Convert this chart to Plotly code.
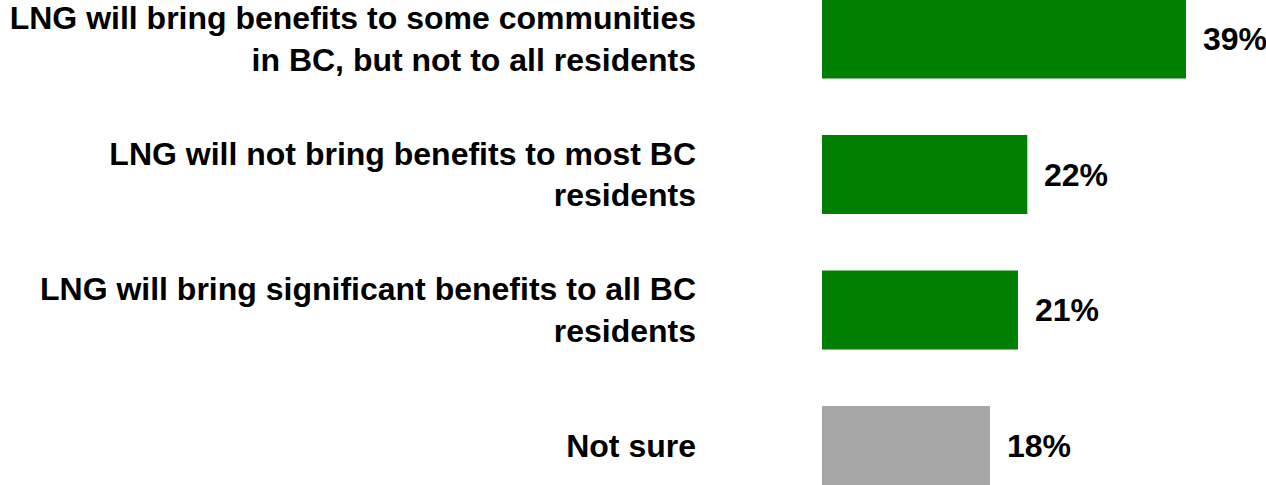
import plotly.graph_objects as go

categories = [
    "LNG will bring benefits to some communities<br>in BC, but not to all residents",
    "LNG will not bring benefits to most BC<br>residents",
    "LNG will bring significant benefits to all BC<br>residents",
    "Not sure",
]
values = [39, 22, 21, 18]
colors = ["#008000", "#008000", "#008000", "#A6A6A6"]
labels = [f"{v}%" for v in values]

FONT = "Liberation Sans, Arial, sans-serif"

FIG_W, FIG_H = 1266, 485

fig = go.Figure(
    go.Bar(
        x=values,
        y=categories,
        orientation="h",
        marker=dict(color=colors, line=dict(width=0)),
        hoverinfo="skip",
        cliponaxis=False,
    )
)

for v, c, t in zip(values, categories, labels):
    fig.add_annotation(
        x=v, y=c, text=t, showarrow=False, xanchor="left", yanchor="middle",
        xshift=15, font=dict(family=FONT, size=32, color="#000000", weight="bold"),
    )

px_per_unit = 135.5
top_val = -39 / px_per_unit
bottom_val = top_val + FIG_H / px_per_unit

fig.update_layout(
    width=FIG_W,
    height=FIG_H,
    margin=dict(l=822, r=0, t=0, b=0, pad=0, autoexpand=False),
    paper_bgcolor="white",
    plot_bgcolor="white",
    showlegend=False,
    bargap=0.417,
    hovermode=False,
    xaxis=dict(
        range=[0, 444 / 9.333],
        visible=False,
        showgrid=False,
        zeroline=False,
        automargin=False,
    ),
    yaxis=dict(
        type="category",
        categoryorder="array",
        categoryarray=categories,
        range=[bottom_val, top_val],
        showgrid=False,
        zeroline=False,
        showline=False,
        ticks="",
        automargin=False,
        ticklabelstandoff=125,
        tickfont=dict(family=FONT, size=32, color="#000000", weight="bold"),
    ),
)

fig.write_html(
    "out.html",
    config={"displayModeBar": False, "staticPlot": True},
    post_script="document.body.style.margin='0';document.body.style.overflow='hidden';",
)
